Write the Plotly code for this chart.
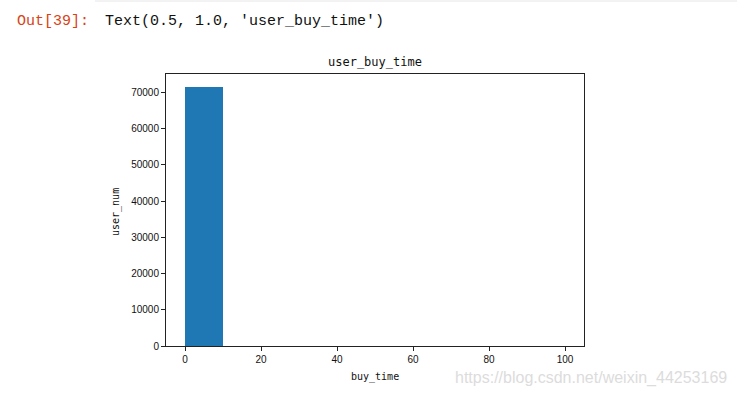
import plotly.graph_objects as go

# histogram bins (buy_time) and counts (user_num)
bin_left = [0, 10, 20, 30, 40, 50, 60, 70, 80, 90]
bin_width = 10
user_num = [71500, 0, 0, 0, 0, 0, 0, 0, 0, 0]
y_ticks = [0, 10000, 20000, 30000, 40000, 50000, 60000, 70000]
x_ticks = [0, 20, 40, 60, 80, 100]

fig = go.Figure()
fig.add_trace(go.Bar(
    x=[b + bin_width / 2 for b in bin_left],
    y=user_num,
    width=[bin_width] * len(bin_left),
    marker=dict(color="#1f77b4", line=dict(width=0)),
    hoverinfo="x+y",
))

mono = "DejaVu Sans Mono"
fig.update_layout(
    width=737, height=396,
    margin=dict(l=166, r=153, t=74, b=50),
    paper_bgcolor="white", plot_bgcolor="white",
    showlegend=False,
    bargap=0,
    xaxis=dict(
        range=[-5, 105], tickvals=x_ticks, ticktext=[str(v) for v in x_ticks],
        showline=True, mirror=True, linecolor="#222", linewidth=1,
        ticks="outside", ticklen=4, tickcolor="#222", showgrid=False, zeroline=False,
        tickfont=dict(family="Liberation Sans", size=10, color="#111"),
    ),
    yaxis=dict(
        range=[0, 75075], tickvals=y_ticks, ticktext=[str(v) for v in y_ticks],
        showline=True, mirror=True, linecolor="#222", linewidth=1,
        ticks="outside", ticklen=4, tickcolor="#222", showgrid=False, zeroline=False,
        tickfont=dict(family="Liberation Sans", size=10, color="#111"),
    ),
    annotations=[
        dict(text="Out[39]:", xref="paper", yref="paper", x=-166/418 + 15/418, y=1 + (74-21)/272,
             xanchor="left", yanchor="middle", showarrow=False,
             font=dict(family="Liberation Mono", size=15, color="#D84315")),
        dict(text="Text(0.5, 1.0, 'user_buy_time')", xref="paper", yref="paper",
             x=(103-166)/418, y=1 + (74-21)/272,
             xanchor="left", yanchor="middle", showarrow=False,
             font=dict(family="Liberation Mono", size=15, color="#111")),
        dict(text="user_buy_time", xref="paper", yref="paper", x=0.5, y=1 + (74-62)/272,
             xanchor="center", yanchor="middle", showarrow=False,
             font=dict(family=mono, size=12, color="#111")),
        dict(text="buy_time", xref="paper", yref="paper", x=0.5, y=-(377-346)/272,
             xanchor="center", yanchor="middle", showarrow=False,
             font=dict(family=mono, size=10, color="#111")),
        dict(text="user_num", xref="paper", yref="paper", x=(116-166)/418, y=(346-212)/272,
             xanchor="center", yanchor="middle", showarrow=False, textangle=-90,
             font=dict(family=mono, size=10, color="#111")),
        dict(text="https://blog.csdn.net/weixin_44253169", xref="paper", yref="paper",
             x=(729-166)/418, y=-(378-346)/272,
             xanchor="right", yanchor="middle", showarrow=False,
             font=dict(family="Liberation Sans", size=16, color="#dcdcdc")),
    ],
)
fig.add_shape(type="line", xref="paper", yref="paper",
              x0=(95-166)/418, x1=(737-166)/418, y0=1 + 73/272, y1=1 + 73/272,
              line=dict(color="#e6e6e6", width=1))

fig.write_html("out.html")
